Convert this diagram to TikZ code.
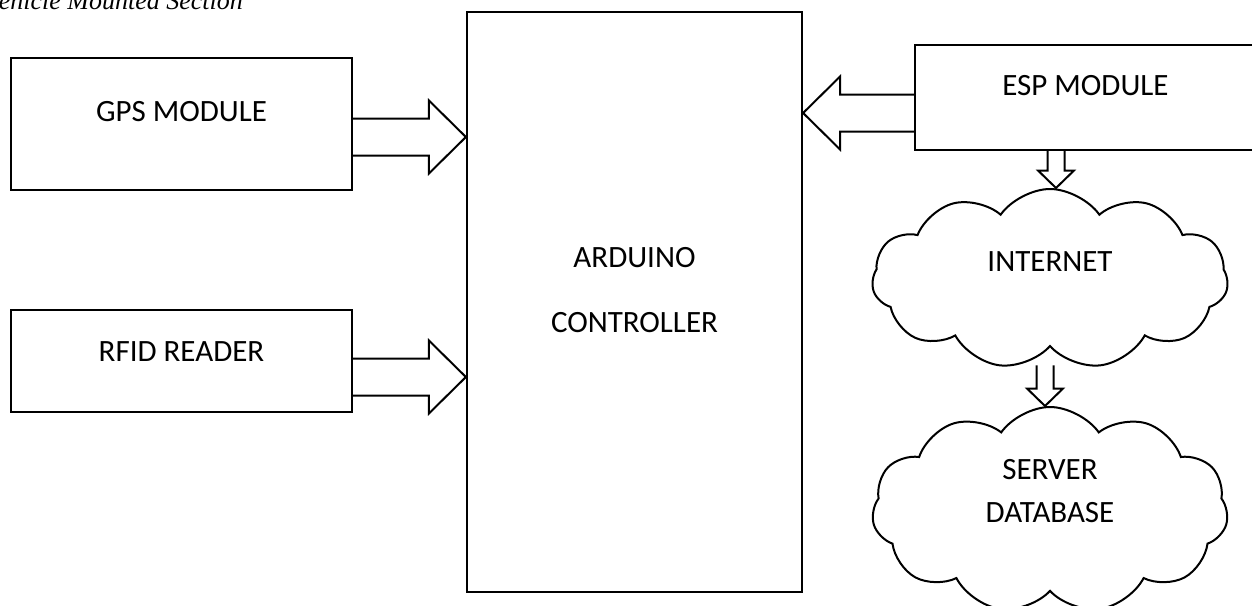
\documentclass[tikz,border=0pt]{standalone}
\usepackage{fontspec}
\setmainfont{Carlito}
\newfontfamily\captionfont{Liberation Serif}
\usetikzlibrary{shapes.symbols,calc}

\tikzset{
  block/.style={draw, line width=2.2pt, inner sep=0pt,
    font=\fontsize{31}{37}\selectfont},
  blob/.style={cloud, draw, line width=2pt, cloud puffs=11,
    cloud puff arc=110, cloud ignores aspect, inner sep=0pt,
    align=center, font=\fontsize{31}{43}\selectfont},
  fat/.style={draw, line width=2pt}
}

% Fat arrows: shaft half width, head half width and head length in pt.
\newcommand{\hfat}[2]{%
  \path[fat] let \p1=(#1), \p2=(#2), \n1={37*sign(\x2-\x1)} in
    ({\x1},{\y1+18.5}) -- ({\x2-\n1},{\y1+18.5}) -- ({\x2-\n1},{\y1+36.5})
    -- ({\x2},{\y1}) -- ({\x2-\n1},{\y1-36.5}) -- ({\x2-\n1},{\y1-18.5})
    -- ({\x1},{\y1-18.5});}
\newcommand{\vfat}[2]{%
  \path[fat] let \p1=(#1), \p2=(#2), \n1={17.5*sign(\y2-\y1)} in
    ({\x1+8.5},{\y1}) -- ({\x1+8.5},{\y2-\n1}) -- ({\x1+18},{\y2-\n1})
    -- ({\x1},{\y2}) -- ({\x1-18},{\y2-\n1}) -- ({\x1-8.5},{\y2-\n1})
    -- ({\x1-8.5},{\y1});}

\begin{document}
\begin{tikzpicture}[x=1pt,y=-1pt]
  \useasboundingbox (0,0) rectangle (1252,605);
  \clip (0,0) rectangle (1252,605);

  % The heading, cut by the top of the page.
  \node[anchor=base east, inner sep=0pt,
    font=\captionfont\itshape\fontsize{26}{30}\selectfont]
    (heading) at (243,9.5) {Vehicle Mounted Section};

  % The controller in the middle.
  \node[block, minimum width=335pt, minimum height=580pt, align=center,
    font=\fontsize{31}{65}\selectfont, text depth=24pt]
    (ard) at (634.5,302) {ARDUINO\\CONTROLLER};

  % The inputs on the left.
  \node[block, minimum width=341pt, minimum height=132pt, text depth=26pt]
    (gps) at (181.5,124) {GPS MODULE};
  \node[block, minimum width=341pt, minimum height=102pt, text depth=18pt]
    (rfid) at (181.5,361) {RFID READER};

  % The ESP module runs off the page on the right.
  \node[block, minimum width=341pt, minimum height=105pt, text depth=25pt]
    (esp) at (1085.5,97.5) {ESP MODULE};

  % The clouds.
  \node[blob, minimum width=356pt, minimum height=180pt, text depth=34pt]
    (inet) at (1050,279) {INTERNET};
  \node[blob, minimum width=356pt, minimum height=206pt, text depth=38pt]
    (db) at (1050,510) {SERVER\\DATABASE};

  % Where the arrows leave the blocks.
  \coordinate (gpsout) at ([yshift=-13pt]gps.east);
  \coordinate (rfidout) at ([yshift=-16pt]rfid.east);
  \coordinate (espout) at ([yshift=-15.5pt]esp.west);
  \coordinate (espdown) at ([xshift=-29.5pt]esp.south);
  \coordinate (inetdown) at ([xshift=-5pt,yshift=-18pt]inet.south);

  % Connect the blocks.
  \hfat{gpsout}{ard.west}
  \hfat{rfidout}{ard.west}
  \hfat{espout}{ard.east}
  \vfat{espdown}{inet.north}
  \vfat{inetdown}{db.north}
\end{tikzpicture}
\end{document}
